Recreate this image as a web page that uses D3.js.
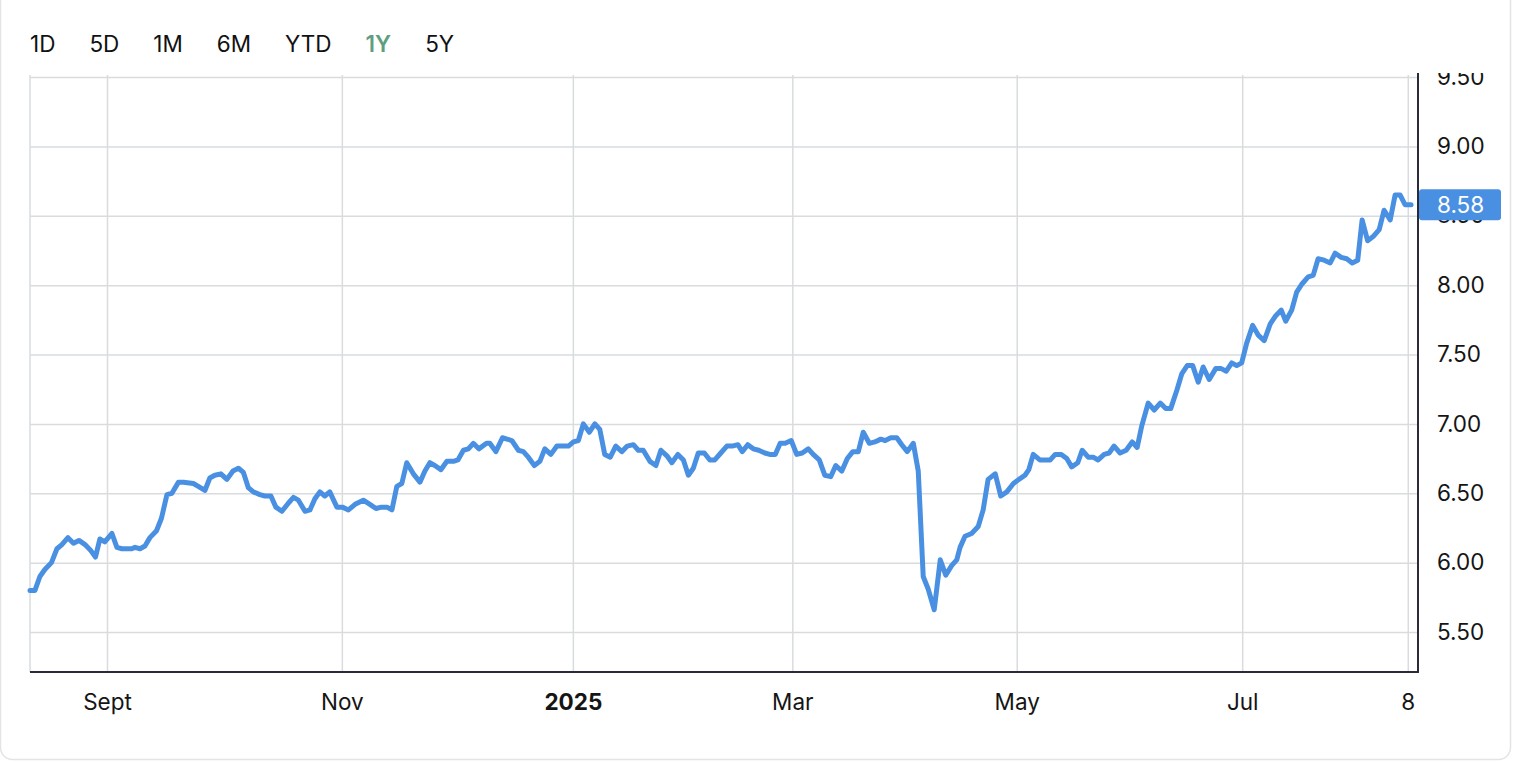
<!DOCTYPE html>
<html><head><meta charset="utf-8">
<script src="https://cdn.jsdelivr.net/npm/d3@7"></script>
<style>
html,body{margin:0;padding:0;background:#fff;}
svg{display:block;font-family:Inter,"Liberation Sans",Arial,sans-serif;}
</style></head><body>
<svg id="c" width="1516" height="762"></svg>
<script>
const ranges = ["1D","5D","1M","6M","YTD","1Y","5Y"];
const activeRange = "1Y";
// trading-session index of each vertex, and closing price
const sessions = [0,0.9,1.8,2.7,3.9,4.9,5.8,6.9,7.9,8.9,10.0,11.0,11.9,12.7,13.6,14.9,15.8,16.7,17.6,18.5,19.1,20.0,20.9,21.8,23.0,23.9,24.9,25.8,27.0,27.9,29.7,30.6,31.8,32.7,33.6,34.7,35.8,36.9,37.9,38.8,39.7,40.6,41.8,42.7,43.8,44.7,45.8,47.0,47.9,48.8,50.0,50.9,51.8,52.7,53.6,54.5,55.8,56.8,57.9,59.1,60.6,61.8,62.9,63.9,64.9,65.8,66.7,67.6,68.5,69.7,70.9,71.8,72.7,73.6,74.7,75.8,77.0,77.8,78.8,79.7,80.6,81.6,83.0,83.6,84.7,85.9,87.6,88.8,89.7,90.6,91.7,92.7,93.6,94.7,95.8,97.0,97.9,98.8,99.7,100.6,101.7,102.7,103.6,104.5,105.5,106.5,107.6,108.6,109.7,110.6,111.5,112.7,113.8,114.7,115.8,116.7,117.8,118.8,119.7,120.6,121.5,122.6,123.6,124.5,125.6,126.7,127.7,128.7,129.5,130.5,131.5,132.5,133.6,134.5,135.5,136.4,137.3,138.4,139.4,140.4,141.5,142.4,143.5,144.5,145.6,146.5,147.6,148.6,149.6,150.6,151.5,152.6,153.6,154.7,155.5,156.5,157.6,158.5,159.5,160.6,161.5,162.4,163.3,164.4,165.5,166.5,167.6,168.5,169.1,170.0,171.2,172.4,173.3,174.2,175.5,176.5,177.6,178.8,179.8,180.9,181.6,182.4,183.6,184.5,185.5,186.4,187.5,188.5,189.4,190.5,191.3,192.4,193.3,194.2,195.3,196.2,197.1,198.2,199.3,200.4,201.3,202.1,203.3,204.4,205.5,206.5,207.4,208.5,209.4,210.4,211.4,212.4,213.3,214.4,215.6,216.5,217.5,218.5,219.4,220.3,221.2,222.3,223.3,224.4,225.5,226.5,227.5,228.3,229.4,230.3,231.3,232.4,233.3,234.2,235.3,236.4,237.3,238.4,239.4,240.4,241.4,242.2,243.2,244.2,245.3,246.2,247.3,248.2,249.1,250.0,251.1];
const prices = [5.80,5.80,5.90,5.95,6.00,6.10,6.13,6.18,6.14,6.16,6.13,6.09,6.04,6.17,6.15,6.21,6.11,6.10,6.10,6.10,6.11,6.10,6.12,6.18,6.23,6.32,6.49,6.50,6.58,6.58,6.57,6.55,6.52,6.61,6.63,6.64,6.60,6.66,6.68,6.65,6.54,6.51,6.49,6.48,6.48,6.40,6.37,6.43,6.47,6.45,6.37,6.38,6.46,6.51,6.48,6.51,6.40,6.40,6.38,6.42,6.45,6.42,6.39,6.40,6.40,6.38,6.55,6.57,6.72,6.64,6.58,6.66,6.72,6.70,6.67,6.73,6.73,6.74,6.81,6.82,6.86,6.82,6.86,6.86,6.80,6.90,6.88,6.81,6.80,6.76,6.70,6.73,6.82,6.78,6.84,6.84,6.84,6.87,6.88,7.00,6.94,7.00,6.96,6.78,6.76,6.84,6.80,6.84,6.85,6.81,6.81,6.73,6.70,6.81,6.77,6.72,6.78,6.74,6.63,6.68,6.79,6.79,6.74,6.74,6.79,6.84,6.84,6.85,6.80,6.85,6.82,6.81,6.79,6.78,6.78,6.86,6.86,6.88,6.78,6.79,6.82,6.78,6.74,6.63,6.62,6.70,6.66,6.75,6.80,6.80,6.94,6.86,6.87,6.89,6.88,6.90,6.90,6.85,6.80,6.86,6.66,5.90,5.81,5.66,6.02,5.91,5.98,6.02,6.11,6.19,6.21,6.26,6.38,6.60,6.64,6.48,6.51,6.57,6.60,6.63,6.67,6.78,6.74,6.74,6.74,6.78,6.78,6.75,6.69,6.72,6.81,6.76,6.76,6.74,6.78,6.79,6.84,6.79,6.81,6.87,6.83,6.98,7.15,7.10,7.15,7.11,7.11,7.24,7.36,7.42,7.42,7.30,7.41,7.32,7.40,7.40,7.38,7.44,7.42,7.44,7.58,7.71,7.64,7.60,7.72,7.78,7.82,7.74,7.82,7.95,8.01,8.06,8.07,8.19,8.18,8.16,8.23,8.20,8.19,8.16,8.18,8.47,8.32,8.35,8.40,8.54,8.47,8.65,8.65,8.58,8.58];
const xTickSessions = [14.0,56.7,98.7,138.6,179.4,220.4,250.5];
const xTickLabels = ["Sept","Nov","2025","Mar","May","Jul","8"];
const yTicks = [5.5,6.0,6.5,7.0,7.5,8.0,8.5,9.0,9.5];
const lastPrice = 8.58;

const W = 1516, H = 762;
const plot = {left:30, right:1418, top:75, bottom:672};
const svg = d3.select("#c");
const lineColor = "#4a90e2", gridColor = "#d9dcdf", axisColor = "#2a2b3a";
const fs = 22.5;

// card
svg.append("rect").attr("x",0.5).attr("y",-20).attr("width",1510).attr("height",H-2.5+20)
  .attr("rx",12).attr("fill","#fff").attr("stroke","#e4e4e4").attr("stroke-width",1.5);

// range buttons
let bx = 30;
ranges.forEach(r => {
  const t = svg.append("text").attr("x",bx).attr("y",51.5).text(r)
    .attr("font-size",fs).attr("fill", r===activeRange ? "#5f9f80" : "#111")
    .attr("font-weight", r===activeRange ? 600 : 400);
  bx += t.node().getComputedTextLength() + 34;
});

const x = d3.scaleLinear().domain([0, 252.36]).range([plot.left, plot.right]);
const y = d3.scaleLinear().domain([5.5, 9.5]).range([632, 77]);

svg.append("clipPath").attr("id","clip").append("rect")
  .attr("x",0).attr("y",73).attr("width",W).attr("height",H-73);
const g = svg.append("g").attr("clip-path","url(#clip)");

// horizontal grid
g.append("g").attr("transform",`translate(${plot.left},0)`)
  .call(d3.axisRight(y).tickValues(yTicks).tickSize(plot.right-plot.left).tickFormat(""))
  .call(s => s.select(".domain").remove())
  .call(s => s.selectAll("line").attr("stroke",gridColor).attr("stroke-width",1.5));

// vertical grid
g.append("g").attr("transform",`translate(0,${plot.top})`)
  .call(d3.axisBottom(x).tickValues(xTickSessions).tickSize(plot.bottom-plot.top).tickFormat(""))
  .call(s => s.select(".domain").remove())
  .call(s => s.selectAll("line").attr("stroke",gridColor).attr("stroke-width",1.5));

// left border
g.append("line").attr("x1",plot.left).attr("x2",plot.left).attr("y1",plot.top).attr("y2",plot.bottom)
  .attr("stroke",gridColor).attr("stroke-width",1.5);

// line
const pts = sessions.map((s,i)=>[s,prices[i]]);
g.append("path").datum(pts)
  .attr("d", d3.line().x(d=>x(d[0])).y(d=>y(d[1])))
  .attr("fill","none").attr("stroke",lineColor).attr("stroke-width",5)
  .attr("stroke-linejoin","round").attr("stroke-linecap","round");

// right axis
const ya = g.append("g").attr("transform",`translate(${plot.right},0)`)
  .call(d3.axisRight(y).tickValues(yTicks).tickSize(0).tickPadding(19).tickFormat(d3.format(".2f")));
ya.select(".domain").remove();
ya.selectAll("text").attr("font-size",fs).attr("fill","#151515").attr("font-family","Inter,Arial,sans-serif");
g.append("line").attr("x1",plot.right).attr("x2",plot.right).attr("y1",plot.top-2).attr("y2",plot.bottom+1)
  .attr("stroke",axisColor).attr("stroke-width",2);

// bottom axis
const xa = g.append("g").attr("transform",`translate(0,${plot.bottom})`)
  .call(d3.axisBottom(x).tickValues(xTickSessions).tickSize(0).tickPadding(22)
    .tickFormat((d,i)=>xTickLabels[i]));
xa.select(".domain").remove();
xa.selectAll("text").attr("font-size",fs).attr("fill","#151515").attr("font-family","Inter,Arial,sans-serif")
  .attr("font-weight",(d,i)=>xTickLabels[i]==="2025"?700:400);
g.append("line").attr("x1",plot.left).attr("x2",plot.right+1).attr("y1",plot.bottom).attr("y2",plot.bottom)
  .attr("stroke",axisColor).attr("stroke-width",2);

// last price badge
const by = y(lastPrice);
g.append("rect").attr("x",plot.right+1).attr("y",by-15.5).attr("width",82).attr("height",31)
  .attr("rx",3).attr("fill",lineColor);
g.append("text").attr("x",plot.right+19).attr("y",by).attr("dy","0.36em")
  .text(lastPrice.toFixed(2)).attr("fill","#fff").attr("font-size",fs);
</script>
</body></html>
